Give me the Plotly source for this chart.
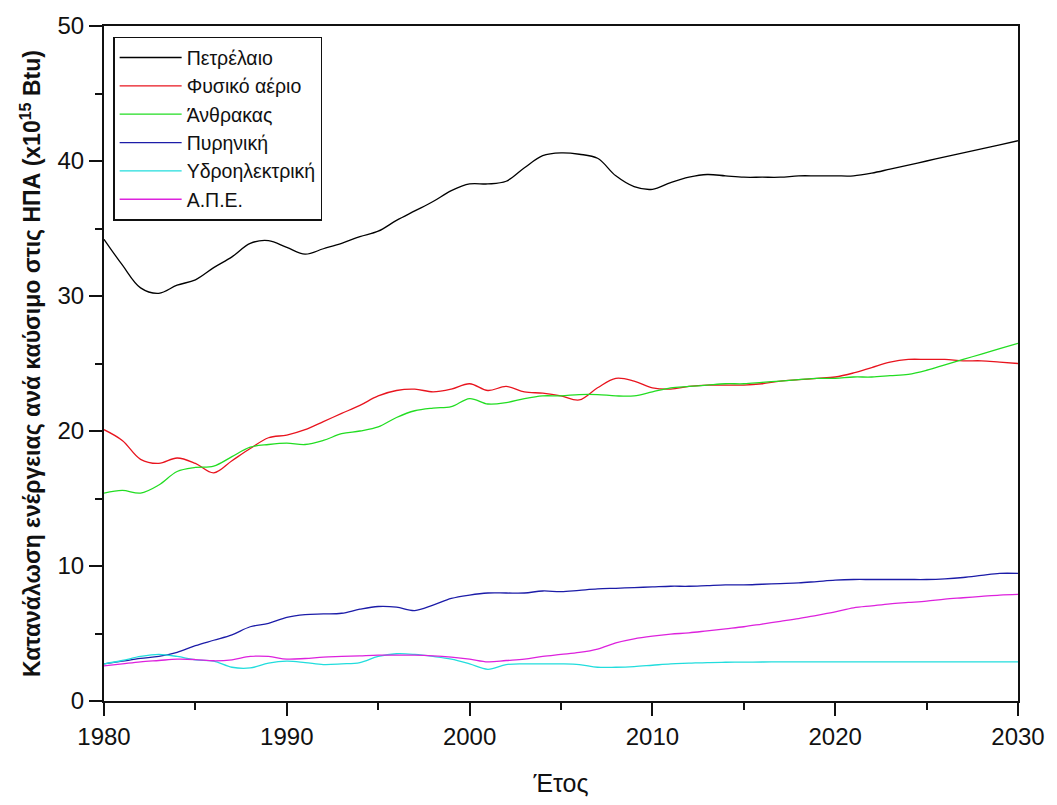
import plotly.graph_objects as go

years = list(range(1980, 2031))

oil = [34.2, 32.3, 30.6, 30.2, 30.8, 31.2, 32.1, 32.9, 33.9, 34.1,
       33.6, 33.1, 33.5, 33.9, 34.4, 34.8, 35.6, 36.3, 37.0, 37.8,
       38.3, 38.3, 38.5, 39.5, 40.4, 40.6, 40.5, 40.2, 38.9, 38.1,
       37.9, 38.4, 38.8, 39.0, 38.9, 38.8, 38.8, 38.8, 38.9, 38.9,
       38.9, 38.9, 39.1, 39.4, 39.7, 40.0, 40.3, 40.6, 40.9, 41.2,
       41.5]

gas = [20.1, 19.3, 17.9, 17.6, 18.0, 17.6, 16.9, 17.8, 18.7, 19.5,
       19.7, 20.1, 20.7, 21.3, 21.9, 22.6, 23.0, 23.1, 22.9, 23.1,
       23.5, 23.0, 23.3, 22.9, 22.8, 22.6, 22.3, 23.2, 23.9, 23.7,
       23.2, 23.1, 23.3, 23.4, 23.4, 23.4, 23.5, 23.7, 23.8, 23.9,
       24.0, 24.3, 24.7, 25.1, 25.3, 25.3, 25.3, 25.2, 25.2, 25.1,
       25.0]

coal = [15.4, 15.6, 15.4, 16.0, 17.0, 17.3, 17.4, 18.1, 18.8, 19.0,
        19.1, 19.0, 19.3, 19.8, 20.0, 20.3, 21.0, 21.5, 21.7, 21.8,
        22.4, 22.0, 22.1, 22.4, 22.6, 22.6, 22.7, 22.7, 22.6, 22.6,
        22.9, 23.2, 23.3, 23.4, 23.5, 23.5, 23.6, 23.7, 23.8, 23.9,
        23.9, 24.0, 24.0, 24.1, 24.2, 24.5, 24.9, 25.3, 25.7, 26.1,
        26.5]

nuclear = [2.75, 2.95, 3.15, 3.3, 3.6, 4.1, 4.5, 4.9, 5.5, 5.75,
           6.2, 6.4, 6.45, 6.5, 6.8, 7.0, 6.95, 6.7, 7.1, 7.6,
           7.85, 8.0, 8.0, 8.0, 8.15, 8.1, 8.2, 8.3, 8.35, 8.4,
           8.45, 8.5, 8.5, 8.55, 8.6, 8.6, 8.65, 8.7, 8.75, 8.85,
           8.95, 9.0, 9.0, 9.0, 9.0, 9.0, 9.05, 9.15, 9.3, 9.45,
           9.45]

hydro = [2.75, 3.0, 3.3, 3.45, 3.3, 3.05, 2.95, 2.5, 2.45, 2.8,
         2.95, 2.85, 2.7, 2.75, 2.85, 3.3, 3.5, 3.45, 3.3, 3.1,
         2.75, 2.35, 2.7, 2.75, 2.75, 2.75, 2.7, 2.5, 2.5, 2.55,
         2.65, 2.75, 2.8, 2.85, 2.87, 2.88, 2.89, 2.9, 2.9, 2.9,
         2.9, 2.9, 2.9, 2.9, 2.9, 2.9, 2.9, 2.9, 2.9, 2.9,
         2.9]

renewables = [2.6, 2.75, 2.9, 3.0, 3.1, 3.07, 2.98, 3.05, 3.3, 3.3,
              3.1, 3.15, 3.25, 3.3, 3.35, 3.4, 3.4, 3.4, 3.35, 3.25,
              3.1, 2.9, 3.0, 3.1, 3.3, 3.45, 3.6, 3.85, 4.3, 4.6,
              4.8, 4.95, 5.05, 5.2, 5.35, 5.5, 5.7, 5.9, 6.1, 6.35,
              6.6, 6.9, 7.05, 7.2, 7.3, 7.4, 7.55, 7.65, 7.75, 7.85,
              7.9]

series_names = ["Πετρέλαιο", "Φυσικό αέριο", "Άνθρακας", "Πυρηνική",
                "Υδροηλεκτρική", "Α.Π.Ε."]
series_values = [oil, gas, coal, nuclear, hydro, renewables]
series_colors = ["#000000", "#e8141e", "#22dd22", "#1c1ca8", "#22dddd", "#dd22dd"]

x_ticks = [1980, 1990, 2000, 2010, 2020, 2030]
y_ticks = [0, 10, 20, 30, 40, 50]

fig = go.Figure()
for name, vals, col in zip(series_names, series_values, series_colors):
    fig.add_trace(go.Scatter(
        x=years, y=vals, name=name, mode="lines",
        line=dict(color=col, width=1.3, shape="spline", smoothing=1.0),
    ))

axis_font = dict(family="Liberation Sans, Arial, sans-serif", size=24, color="#111111")

fig.update_layout(
    width=1057, height=805,
    margin=dict(l=104, r=35, t=23, b=98),
    paper_bgcolor="white", plot_bgcolor="white",
    showlegend=True,
    legend=dict(
        x=0.01, y=0.984, xanchor="left", yanchor="top",
        bgcolor="white", bordercolor="#111111", borderwidth=1.5,
        font=dict(family="Liberation Sans, Arial, sans-serif", size=19.5, color="#111111"),
        itemwidth=62, tracegroupgap=0,
    ),
    xaxis=dict(
        range=[1980, 2030], tickmode="array", tickvals=x_ticks,
        ticks="outside", ticklen=13, tickwidth=2, tickcolor="#111111",
        minor=dict(dtick=5, tick0=1980, ticks="outside", ticklen=7, tickwidth=2, tickcolor="#111111"),
        showline=True, linecolor="#111111", linewidth=2, mirror=True,
        showgrid=False, zeroline=False,
        tickfont=axis_font,
        title=dict(text="Έτος", standoff=26,
                   font=dict(family="Liberation Sans, Arial, sans-serif",
                             size=25, color="#111111")),
    ),
    yaxis=dict(
        range=[0, 50], tickmode="array", tickvals=y_ticks,
        ticks="outside", ticklen=13, tickwidth=2, tickcolor="#111111",
        minor=dict(dtick=5, tick0=0, ticks="outside", ticklen=7, tickwidth=2, tickcolor="#111111"),
        showline=True, linecolor="#111111", linewidth=2, mirror=True,
        showgrid=False, zeroline=False,
        tickfont=axis_font,
        title=dict(text="<b>Κατανάλωση ενέργειας ανά καύσιμο στις ΗΠΑ (x10<sup>15</sup> Btu)</b>",
                   standoff=10,
                   font=dict(family="Liberation Sans, Arial, sans-serif",
                             size=23, color="#111111")),
    ),
)

fig.write_html("out.html")
